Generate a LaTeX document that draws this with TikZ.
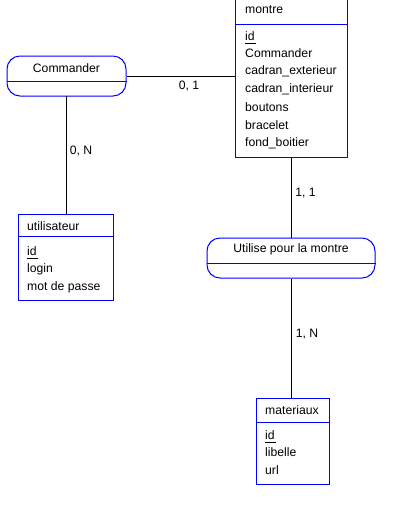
\documentclass[tikz,border=0pt]{standalone}
\usepackage{fontspec}
\setmainfont{Liberation Sans}
\begin{document}
\begin{tikzpicture}[x=1pt,y=-1pt,
  ent/.style={draw=blue,line width=1pt,rectangle,inner sep=0pt},
  rel/.style={draw=blue,line width=1pt,rectangle,rounded corners=13pt,inner sep=0pt},
  sep/.style={draw=blue,line width=1pt},
  conn/.style={draw=black,line width=1pt},
  txt/.style={inner sep=0pt,font=\fontsize{12.2}{14}\selectfont,anchor=west,yshift=-1pt},
  ctxt/.style={inner sep=0pt,font=\fontsize{12.2}{14}\selectfont,yshift=-1pt},
  idline/.style={draw=black,line width=0.8pt}]
\useasboundingbox (0,0) rectangle (415,512);
% entities
\node[ent,minimum width=112pt,minimum height=159pt] (montre) at (291,77.5) {};
\node[rel,minimum width=119pt,minimum height=40pt] (cmd) at (66.5,76) {};
\node[ent,minimum width=95pt,minimum height=86pt] (util) at (65.5,257) {};
\node[rel,minimum width=168pt,minimum height=40pt] (utp) at (291,258) {};
\node[ent,minimum width=73pt,minimum height=86pt] (mat) at (292.5,441) {};
% separators
\draw[sep] (montre.west |- 0,24) -- (montre.east |- 0,24);
\draw[sep] (cmd.west |- 0,81) -- (cmd.east |- 0,81);
\draw[sep] (util.west |- 0,236) -- (util.east |- 0,236);
\draw[sep] (utp.west |- 0,263) -- (utp.east |- 0,263);
\draw[sep] (mat.west |- 0,422) -- (mat.east |- 0,422);
% montre texts
\node[txt] (m0) at (245,9) {montre};
\node[txt] (m1) at (245,35) {id};
\node[txt] (m2) at (245,52.5) {Commander};
\node[txt] (m3) at (245,70.5) {cadran\_exterieur};
\node[txt] (m4) at (245,88.5) {cadran\_interieur};
\node[txt] (m5) at (245,106) {boutons};
\node[txt] (m6) at (245,124) {bracelet};
\node[txt] (m7) at (245,142) {fond\_boitier};
\draw[idline] (245,43) -- (256,43);
% Commander
\node[ctxt] (c0) at (66.5,67) {Commander};
% utilisateur
\node[txt] (u0) at (27,225) {utilisateur};
\node[txt] (u1) at (27,250) {id};
\node[txt] (u2) at (27,268) {login};
\node[txt] (u3) at (27,286) {mot de passe};
\draw[idline] (27,258) -- (38,258);
% Utilise pour la montre
\node[ctxt] (p0) at (291,248) {Utilise pour la montre};
% materiaux
\node[txt] (x0) at (265,409) {materiaux};
\node[txt] (x1) at (265,434) {id};
\node[txt] (x2) at (265,451) {libelle};
\node[txt] (x3) at (265,469) {url};
\draw[idline] (265,442) -- (276,442);
% connectors
\draw[conn] (cmd.east |- 0,76) -- (montre.west |- 0,76);
\draw[conn] (66,96) -- (util.north -| 66,0);
\draw[conn] (montre.south) -- (utp.north);
\draw[conn] (utp.south) -- (utp.south |- mat.north);
% labels
\node[ctxt] (l1) at (189,85) {0, 1};
\node[ctxt] (l2) at (81,150) {0, N};
\node[ctxt] (l3) at (305.5,192) {1, 1};
\node[ctxt] (l4) at (307,333) {1, N};
\end{tikzpicture}
\end{document}
